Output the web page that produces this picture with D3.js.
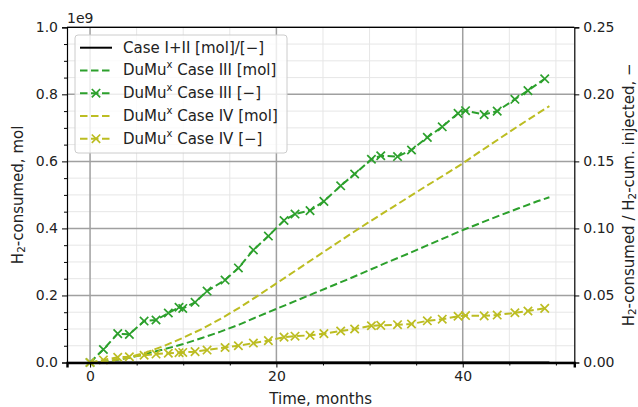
<!DOCTYPE html>
<html>
<head>
<meta charset="utf-8">
<script src="https://cdn.jsdelivr.net/npm/d3@7"></script>
<style>
  body { margin: 0; background: #fff; }
  svg { font-family: "DejaVu Sans", sans-serif; }
</style>
</head>
<body>
<svg id="chart" width="638" height="407"></svg>
<script>
// Data (months, ratios on right axis, mol in units of 1e9 on left axis)
const ratioMonths = [0, 1.43, 2.97, 4.22, 5.80, 7.08, 8.40, 9.55, 9.95, 11.27, 12.56, 14.49, 15.92, 17.53,
    19.14, 20.82, 22.0, 23.61, 25.1, 26.9, 28.4, 30.2, 31.2, 33.0, 34.5, 36.2, 37.8, 39.5, 40.3, 42.3,
    43.7, 45.6, 47.0, 48.8];
const caseIIIRatio = [0, 0.0097, 0.0215, 0.0210, 0.0309, 0.0317, 0.0369, 0.0412, 0.0403, 0.0449, 0.0533,
    0.0615, 0.0705, 0.0839, 0.0943, 0.1059, 0.1107, 0.1133, 0.1202, 0.1318, 0.1406, 0.1516, 0.1542,
    0.1536, 0.1585, 0.1679, 0.1758, 0.1858, 0.1878, 0.1849, 0.1875, 0.1963, 0.2028, 0.2116];
const caseIVRatio = [0, 0.0019, 0.0039, 0.0043, 0.0054, 0.0063, 0.0069, 0.0073, 0.0075, 0.0081, 0.0093,
    0.0112, 0.0125, 0.0145, 0.0163, 0.0189, 0.0196, 0.0203, 0.0215, 0.0235, 0.0250, 0.0274, 0.0277,
    0.0282, 0.0287, 0.0311, 0.0323, 0.0345, 0.0350, 0.0348, 0.0354, 0.0371, 0.0384, 0.0404];

const molMonths = [0, 2, 4, 6, 8, 10, 12, 14, 16, 18, 20, 22, 24, 26, 28, 30, 32, 34, 36, 38, 40, 42, 44, 46, 48, 49.3];
const caseIIIMol = [0, 0.004, 0.013, 0.026, 0.040, 0.055, 0.073, 0.092, 0.113, 0.137, 0.160, 0.183, 0.206,
    0.229, 0.252, 0.276, 0.300, 0.323, 0.347, 0.371, 0.395, 0.417, 0.439, 0.460, 0.481, 0.493];
const caseIVMol = [0, 0.004, 0.014, 0.030, 0.050, 0.074, 0.100, 0.130, 0.163, 0.199, 0.236, 0.273, 0.310,
    0.347, 0.384, 0.420, 0.455, 0.490, 0.525, 0.559, 0.594, 0.632, 0.669, 0.706, 0.742, 0.765];

const caseIandIIMonths = [0, 49.3];
const caseIandIIValues = [0, 0];

const xTicks = [0, 20, 40];
const leftTicks = [0, 0.2, 0.4, 0.6, 0.8, 1.0];
const rightTicks = [0, 0.05, 0.10, 0.15, 0.20, 0.25];

const green = '#2ca02c', olive = '#bcbd22';

// Layout
const plotLeft = 67, plotRight = 574.3, plotTop = 27.3, plotBottom = 362.5;
const svg = d3.select('#chart');

const x = d3.scaleLinear().domain([-2.475, 51.975]).range([plotLeft, plotRight]);
const yL = d3.scaleLinear().domain([0, 1]).range([plotBottom, plotTop]);
const yR = d3.scaleLinear().domain([0, 0.25]).range([plotBottom, plotTop]);

// grid
const grid = svg.append('g');
const xMinor = d3.range(0, 51, 5).filter(d => !xTicks.includes(d));
const yMinor = d3.range(0, 1.0001, 0.05).filter(d => Math.abs(d * 5 - Math.round(d * 5)) > 1e-6);

grid.selectAll('.xmin').data(xMinor).join('line')
    .attr('x1', d => x(d)).attr('x2', d => x(d)).attr('y1', plotTop).attr('y2', plotBottom)
    .attr('stroke', '#e6e6e6').attr('stroke-width', 1);
grid.selectAll('.ymin').data(yMinor).join('line')
    .attr('x1', plotLeft).attr('x2', plotRight).attr('y1', d => yL(d)).attr('y2', d => yL(d))
    .attr('stroke', '#e6e6e6').attr('stroke-width', 1);
grid.selectAll('.xmaj').data(xTicks).join('line')
    .attr('x1', d => x(d)).attr('x2', d => x(d)).attr('y1', plotTop).attr('y2', plotBottom)
    .attr('stroke', '#a0a0a0').attr('stroke-width', 1.5);
grid.selectAll('.ymaj').data(leftTicks).join('line')
    .attr('x1', plotLeft).attr('x2', plotRight).attr('y1', d => yL(d)).attr('y2', d => yL(d))
    .attr('stroke', '#a0a0a0').attr('stroke-width', 1.5);

// lines
const dash = '7.5,3.5';
function drawLine(xs, ys, yScale, color, dashed) {
    const line = d3.line().x((d, i) => x(xs[i])).y(d => yScale(d));
    svg.append('path').datum(ys)
        .attr('d', line).attr('fill', 'none')
        .attr('stroke', color).attr('stroke-width', 2)
        .attr('stroke-dasharray', dashed ? dash : null);
}
function drawMarkers(xs, ys, yScale, color) {
    const s = 4.2;
    svg.append('g').selectAll('path').data(ys).join('path')
        .attr('d', (d, i) => {
            const cx = x(xs[i]), cy = yScale(d);
            return `M${cx - s},${cy - s}L${cx + s},${cy + s}M${cx - s},${cy + s}L${cx + s},${cy - s}`;
        })
        .attr('stroke', color).attr('stroke-width', 1.7).attr('fill', 'none');
}

drawLine(caseIandIIMonths, caseIandIIValues, yL, '#000', false);
drawLine(molMonths, caseIIIMol, yL, green, true);
drawLine(ratioMonths, caseIIIRatio, yR, green, true);
drawMarkers(ratioMonths, caseIIIRatio, yR, green);
drawLine(molMonths, caseIVMol, yL, olive, true);
drawLine(ratioMonths, caseIVRatio, yR, olive, true);
drawMarkers(ratioMonths, caseIVRatio, yR, olive);

// axes
const fmt1 = d3.format('.1f'), fmt2 = d3.format('.2f');
const xAxis = svg.append('g').attr('transform', `translate(0,${plotBottom})`)
    .call(d3.axisBottom(x).tickValues(xTicks).tickSize(5).tickPadding(4));
svg.append('g').attr('transform', `translate(0,${plotBottom})`)
    .call(d3.axisBottom(x).tickValues(xMinor).tickSize(3).tickFormat(''))
    .call(g => g.select('.domain').remove());

svg.append('g').attr('transform', `translate(${plotLeft},0)`)
    .call(d3.axisLeft(yL).tickValues(leftTicks).tickFormat(fmt1).tickSize(5).tickPadding(4));
svg.append('g').attr('transform', `translate(${plotLeft},0)`)
    .call(d3.axisLeft(yL).tickValues(yMinor).tickSize(3).tickFormat(''))
    .call(g => g.select('.domain').remove());

svg.append('g').attr('transform', `translate(${plotRight},0)`)
    .call(d3.axisRight(yR).tickValues(rightTicks).tickFormat(fmt2).tickSize(5).tickPadding(4));

svg.selectAll('.domain').attr('stroke', '#000').attr('stroke-width', 1.2);
svg.selectAll('.tick line').attr('stroke', '#000').attr('stroke-width', 1);
svg.selectAll('.tick text').attr('font-size', 14).attr('fill', '#222')
    .attr('font-family', '"DejaVu Sans", sans-serif');
xAxis.select('.domain').attr('stroke-width', 2.4);

// top spine
svg.append('line').attr('x1', plotLeft).attr('x2', plotRight).attr('y1', plotTop).attr('y2', plotTop)
    .attr('stroke', '#000').attr('stroke-width', 1.2);

// offset text
svg.append('text').attr('x', plotLeft).attr('y', 18).attr('dominant-baseline', 'central')
    .attr('font-size', 14).attr('fill', '#222').text('1e9');

// axis labels
svg.append('text').attr('x', (plotLeft + plotRight) / 2).attr('y', 399)
    .attr('text-anchor', 'middle').attr('dominant-baseline', 'central')
    .attr('font-size', 15).attr('fill', '#222').text('Time, months');

const lblL = svg.append('text')
    .attr('transform', `translate(18,${(plotTop + plotBottom) / 2}) rotate(-90)`)
    .attr('text-anchor', 'middle').attr('dominant-baseline', 'central')
    .attr('font-size', 15).attr('fill', '#222');
lblL.append('tspan').text('H');
lblL.append('tspan').attr('font-size', 10.5).attr('dy', 3).text('2');
lblL.append('tspan').attr('dy', -3).text('-consumed, mol');

const lblR = svg.append('text')
    .attr('transform', `translate(629,${(plotTop + plotBottom) / 2}) rotate(-90)`)
    .attr('text-anchor', 'middle').attr('dominant-baseline', 'central')
    .attr('font-size', 15).attr('fill', '#222');
lblR.append('tspan').text('H');
lblR.append('tspan').attr('font-size', 10.5).attr('dy', 3).text('2');
lblR.append('tspan').attr('dy', -3).text('-consumed / H');
lblR.append('tspan').attr('font-size', 10.5).attr('dy', 3).text('2');
lblR.append('tspan').attr('dy', -3).text('-cum. injected, \u2212');

// legend
const legendItems = [
    { pre: 'Case I+II [mol]/[\u2212]', sup: null, post: '', color: '#000', dashed: false, marker: false },
    { pre: 'DuMu', sup: 'x', post: ' Case III [mol]', color: green, dashed: true, marker: false },
    { pre: 'DuMu', sup: 'x', post: ' Case III [\u2212]', color: green, dashed: true, marker: true },
    { pre: 'DuMu', sup: 'x', post: ' Case IV [mol]', color: olive, dashed: true, marker: false },
    { pre: 'DuMu', sup: 'x', post: ' Case IV [\u2212]', color: olive, dashed: true, marker: true }
];
const lg = svg.append('g');
lg.append('rect').attr('x', 75).attr('y', 35).attr('width', 212).attr('height', 118)
    .attr('rx', 3).attr('fill', 'rgba(255,255,255,0.8)').attr('stroke', '#cccccc').attr('stroke-width', 1);
legendItems.forEach((it, i) => {
    const cy = 47.7 + i * 22.75;
    lg.append('line').attr('x1', 80).attr('x2', 112).attr('y1', cy).attr('y2', cy)
        .attr('stroke', it.color).attr('stroke-width', 2)
        .attr('stroke-dasharray', it.dashed ? dash : null);
    if (it.marker) {
        const s = 4.2, cx = 96;
        lg.append('path')
            .attr('d', `M${cx - s},${cy - s}L${cx + s},${cy + s}M${cx - s},${cy + s}L${cx + s},${cy - s}`)
            .attr('stroke', it.color).attr('stroke-width', 1.7);
    }
    const t = lg.append('text').attr('x', 123).attr('y', cy).attr('dominant-baseline', 'central')
        .attr('font-size', 15).attr('fill', '#222');
    t.append('tspan').text(it.pre);
    if (it.sup) {
        t.append('tspan').attr('font-size', 10).attr('dy', -6).text(it.sup);
        t.append('tspan').attr('dy', 6).text(it.post);
    }
});
</script>
</body>
</html>
